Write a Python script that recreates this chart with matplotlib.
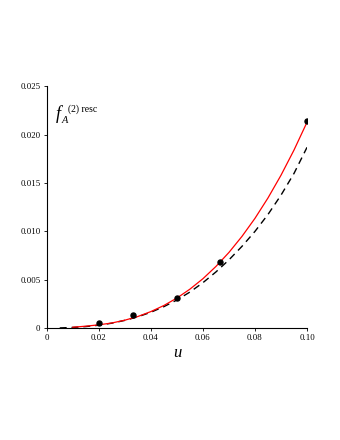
import numpy as np
from matplotlib import pyplot as plt

plt.rcParams['font.family'] = 'Liberation Serif'

# data
u_red = [0.010, 0.015, 0.020, 0.025, 0.030, 0.035, 0.040, 0.045, 0.050, 0.055,
         0.060, 0.065, 0.070, 0.075, 0.080, 0.085, 0.090, 0.095, 0.100]
f_red = [0.00008, 0.00019, 0.00033, 0.00052, 0.00081, 0.00119, 0.00170, 0.00233,
         0.00310, 0.00402, 0.00510, 0.00637, 0.00782, 0.00948, 0.01135, 0.01346,
         0.01581, 0.01842, 0.02130]

u_dash = [0.005, 0.010, 0.015, 0.020, 0.025, 0.030, 0.035, 0.040, 0.045, 0.050,
          0.055, 0.060, 0.065, 0.070, 0.075, 0.080, 0.085, 0.090, 0.095, 0.100]
f_dash = [0.00001, 0.00006, 0.00015, 0.00029, 0.00050, 0.00079, 0.00116, 0.00163,
          0.00221, 0.00290, 0.00372, 0.00469, 0.00580, 0.00705, 0.00845, 0.01000,
          0.01175, 0.01375, 0.01600, 0.01870]

u_pts = [0.02, 0.0333, 0.05, 0.0667, 0.10]
f_pts = [0.0005, 0.0013, 0.0031, 0.0068, 0.0214]

xticks = [0, 0.02, 0.04, 0.06, 0.08, 0.10]
xlabels = ['0', '0.02', '0.04', '0.06', '0.08', '0.10']
yticks = [0, 0.005, 0.010, 0.015, 0.020, 0.025]
ylabels = ['0', '0.005', '0.010', '0.015', '0.020', '0.025']

fig = plt.figure(figsize=(3.4, 4.4), dpi=100)
ax = fig.add_axes([0.1374, 0.2545, 0.7656, 0.549])

ax.plot(u_dash, f_dash, color='black', lw=1.0, dashes=(5, 3.5))
ax.plot(u_red, f_red, color='red', lw=0.9)
ax.plot(u_pts, f_pts, 'o', color='black', ms=3.6)

ax.set_xlim(0, 0.10)
ax.set_ylim(0, 0.025)
ax.set_xticks(xticks)
ax.set_xticklabels(xlabels)
ax.set_yticks(yticks)
ax.set_yticklabels(ylabels)
ax.tick_params(labelsize=6.3, length=2.5, width=0.6, pad=2)
for s in ['top', 'right']:
    ax.spines[s].set_visible(False)
for s in ['left', 'bottom']:
    ax.spines[s].set_linewidth(0.8)

ax.set_xlabel('u', fontsize=12, style='italic', labelpad=2)

# label f_A^(2) resc
fig.text(56/340, 1-119/440, 'f', fontsize=13, style='italic')
fig.text(62/340, 1-123/440, 'A', fontsize=7.5, style='italic')
fig.text(68/340, 1-112/440, '(2) resc', fontsize=7)

fig.savefig('out.png', dpi=100)
